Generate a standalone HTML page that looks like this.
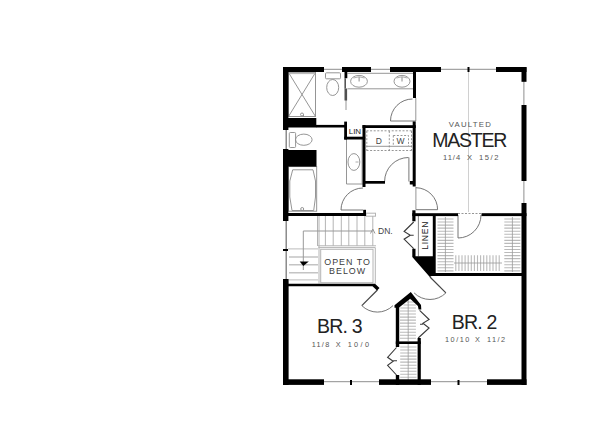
<!DOCTYPE html>
<html><head><meta charset="utf-8"><style>
html,body{margin:0;padding:0;background:#fff;}
body{width:600px;height:442px;overflow:hidden;}
svg{display:block;}
text{font-family:"Liberation Sans",sans-serif;}
</style></head><body>
<svg width="600" height="442" viewBox="0 0 600 442">
<rect width="600" height="442" fill="#fff"/>
<!-- light lines -->
<g fill="none" stroke="#8e8e8e" stroke-width="1">
  <path d="M324 69.3H342M371 69.3H390M441 69.3H496"/>
  <path d="M286.2 130V149M286.2 221V279" stroke="#7a7a7a" stroke-width="1.3"/>
  <path d="M523.9 81V105M523.9 181V203"/>
  <path d="M324 381.7H379M431 381.7H487"/>
</g>
<g fill="none" stroke="#b4b4b4" stroke-width="1">
  <path d="M468.5 72V212" stroke="#d0d0d0"/>
  <!-- stairs -->
  <path d="M317.5 216V246M325.4 216V246M333.2 216V246M341.3 216V246M348.8 216V246M357 216V246M364.8 216V246M372.8 216V246"/>
  <path d="M318 245.8H376"/>
  <path d="M288 248.9H318M289 279.9H318" stroke="#aaa" stroke-width="0.8"/>
  <path d="M289 257H318M289 264.7H318M289 272.7H318" stroke="#c4c4c4" stroke-width="1.6"/>
  <path d="M319 216V283.5"/>
  <rect x="366" y="213.2" width="9.5" height="3"/>
  <path d="M372.8 231H303.3V270" stroke="#999"/>
  <path d="M370.5 233.5L372.8 229L375 233.5" stroke="#999"/>
  <path d="M318.4 247.6H375.3V283.7"/>
  <rect x="320.7" y="249.3" width="52.3" height="33.4"/>
</g>
<!-- fixtures -->
<g fill="none" stroke="#8a8a8a" stroke-width="0.9">
  <rect x="288.5" y="72.5" width="27" height="44"/>
  <path d="M288.5 72.5L315.5 116.5M315.5 72.5L288.5 116.5"/>
  <path d="M289 73.3H315" stroke="#bbb" stroke-width="1.6"/>
  <path d="M300.5 114.5a1.5 1.5 0 1 0 3 0a1.5 1.5 0 1 0 -3 0M303.5 114.5v2"/>
  <rect x="325.5" y="72.8" width="15" height="6" rx="1"/>
  <ellipse cx="332.7" cy="87.5" rx="6" ry="8"/>
  <path d="M347.5 73.3H413M347.5 88.8H413"/>
  <ellipse cx="359" cy="81.3" rx="8.4" ry="5.9"/>
  <ellipse cx="402" cy="81.3" rx="8" ry="5.9"/>
  <path d="M353.5 78Q359 75.5 364.5 78M396.5 78Q402 75.5 407.5 78" stroke-width="0.7"/>
  <path d="M359.1 77v4.5M402 77v4.5" stroke-width="1"/>
  <rect x="289.3" y="132.5" width="6.3" height="15" rx="1"/>
  <ellipse cx="303.8" cy="139.7" rx="8.3" ry="5.6"/>
  <path d="M346.5 139V184H363"/>
  <ellipse cx="353.9" cy="162" rx="5.9" ry="8.4"/>
  <path d="M358.5 162h-3M362 139V183.5" stroke-width="0.7"/>
  <rect x="288.5" y="166.6" width="28.2" height="44.6"/>
  <path d="M292.7 169.8H313L315.5 181V197L313.7 210.5H292L289.8 197V181Z"/>
  <path d="M300.7 209a1.5 1.5 0 1 0 3 0a1.5 1.5 0 1 0 -3 0"/>
  <path d="M366.5 130.8H412M366.5 150.5H412M366.8 131V150.5M411.5 131V150.5M389.3 131V150.5M393.3 135.5H408.5V146M393.3 135.5V146" stroke-dasharray="2 1.6"/>
  <path d="M366.5 146.3H412"/>
  <path d="M458 213.5H481.5" stroke-dasharray="2 1.5"/>
  <path d="M418.4 216V256.3" stroke="#777"/>
  <path d="M346 100V110"/>
  <path d="M415.8 98V121M415.9 187V209.7"/>
</g>
<!-- doors -->
<g fill="none" stroke="#666" stroke-width="0.9">
  <path d="M390.5 121H415.8"/>
  <path d="M412.5 99A22 22 0 0 0 390.5 121"/>
  <path d="M341 210H363"/>
  <path d="M341 210A22 22 0 0 1 363 188"/>
  <path d="M408.9 157.5V181.5"/>
  <path d="M408.5 157.5A24 24 0 0 0 384.6 181.5"/>
  <path d="M415.9 209.7H437.6"/>
  <path d="M437.6 209.7A22 22 0 0 0 415.9 187.7"/>
  <path d="M377.4 290L361.8 305.6" stroke="#444" stroke-width="1.2"/>
  <path d="M361.8 305.6A22 22 0 0 0 393 305.6"/>
  <path d="M430 277L445.9 292.9" stroke="#444" stroke-width="1.2"/>
  <path d="M445.9 292.9A22.5 22.5 0 0 1 414.1 292.9"/>
  <path d="M458 215V238"/>
  <path d="M458 238A23 23 0 0 0 481 215"/>
  <g stroke="#3a3a3a" stroke-width="1.1">
  <path d="M413.7 222L404.1 231.5L410.3 235.3L404.1 239.2L413.7 248.6M410.3 235.3H413.7"/>
  <path d="M419.6 310.4L429.1 319.5L422.9 323.2L429.1 328L418.2 338M420 324.2H422.9"/>
  <path d="M396.5 347.5L387.6 357.3L393.2 361.3L387.6 365.3L396.5 375M393.2 360.8H397"/>
  </g>
</g>
<path d="M299.7 261.6H308.8L303.3 266Z" fill="#000"/>
<!-- hatches -->
<g stroke="#bababa" stroke-width="1.1" fill="none">
  <path d="M437.5 219H453.5M437.5 222.05H453.5M437.5 225.1H453.5M437.5 228.15H453.5M437.5 231.2H453.5M437.5 234.25H453.5M437.5 237.3H453.5M437.5 240.35H453.5M437.5 243.4H453.5M437.5 246.45H453.5M437.5 249.5H453.5M437.5 252.55H453.5M437.5 255.6H453.5M437.5 258.65H453.5M437.5 261.7H453.5M437.5 264.75H453.5M437.5 267.8H453.5M437.5 270.85H453.5M504.3 219H520.3M504.3 222.05H520.3M504.3 225.1H520.3M504.3 228.15H520.3M504.3 231.2H520.3M504.3 234.25H520.3M504.3 237.3H520.3M504.3 240.35H520.3M504.3 243.4H520.3M504.3 246.45H520.3M504.3 249.5H520.3M504.3 252.55H520.3M504.3 255.6H520.3M504.3 258.65H520.3M504.3 261.7H520.3M504.3 264.75H520.3M504.3 267.8H520.3M504.3 270.85H520.3M455.8 255.2V271M458.9 255.2V271M462 255.2V271M465.1 255.2V271M468.2 255.2V271M471.3 255.2V271M474.4 255.2V271M477.5 255.2V271M480.6 255.2V271M483.7 255.2V271M486.8 255.2V271M489.9 255.2V271M493 255.2V271M496.1 255.2V271M499.2 255.2V271M410 298.91H412.4M406.7 301.94H415M403.5 304.97H415.9M400.3 308H415.9M400 311.03H415.9M400 314.06H415.9M400 317.09H415.9M400 320.12H415.9M400 323.15H415.9M400 326.18H415.9M400 329.21H415.9M400 332.24H415.9M400 335.27H415.9M400 338.3H415.9M400.2 347H416.5M400.2 350.03H416.5M400.2 353.06H416.5M400.2 356.09H416.5M400.2 359.12H416.5M400.2 362.15H416.5M400.2 365.18H416.5M400.2 368.21H416.5M400.2 371.24H416.5M400.2 374.27H416.5M400.2 377.3H416.5"/>
  <path d="M445.4 217V272M512.4 217V272M454 263H502M408.2 297V341M408.2 344V380" stroke="#999" stroke-width="0.8"/>
</g>
<!-- walls -->
<g fill="#000">
  <rect x="283" y="67" width="41" height="5"/>
  <rect x="342" y="67" width="29" height="5"/>
  <rect x="390" y="67" width="51" height="5"/>
  <rect x="496" y="67" width="30.5" height="5"/>
  <rect x="467.5" y="67" width="2" height="5"/>
  <rect x="283" y="67.2" width="5.4" height="62.8"/>
  <rect x="283" y="149" width="5.4" height="72"/>
  <rect x="283" y="249" width="5" height="2"/>
  <rect x="283" y="279" width="5.6" height="106"/>
  <rect x="521.5" y="67.2" width="5" height="14.6"/>
  <rect x="521.5" y="105" width="5" height="76"/>
  <rect x="521.5" y="203" width="5" height="182"/>
  <rect x="283" y="379.3" width="41" height="5.6"/>
  <rect x="379" y="379.3" width="52" height="5.6"/>
  <rect x="487" y="379.3" width="39.5" height="5.6"/>
  <rect x="350" y="380" width="2" height="5"/>
  <rect x="457.5" y="380" width="2" height="5"/>
  <rect x="283" y="118" width="33.3" height="9.5"/>
  <rect x="316" y="124.9" width="31" height="2.6"/>
  <rect x="283" y="150" width="33.5" height="16.6"/>
  <rect x="344.5" y="72" width="2.8" height="6.2"/>
  <rect x="344.4" y="78.2" width="1.6" height="10.4" fill="#555"/>
  <rect x="344.5" y="88.5" width="2.6" height="12" fill="#505050"/>
  <rect x="413" y="72" width="3" height="26"/>
  <rect x="344.2" y="121.6" width="2.8" height="17.9"/>
  <rect x="344.2" y="136.7" width="21" height="2.8"/>
  <rect x="362.5" y="125.1" width="3" height="61.9"/>
  <rect x="362.5" y="125.2" width="53.3" height="2.8"/>
  <rect x="412.7" y="121.5" width="3" height="65"/>
  <rect x="363" y="181" width="22" height="2.7"/>
  <rect x="409.8" y="181" width="4" height="3.5"/>
  <rect x="283" y="213" width="83" height="3"/>
  <rect x="363.2" y="209.8" width="2.8" height="6"/>
  <path d="M283 283.7H375L379.5 288L377 290.5L372.5 286.3H283Z"/>
  <rect x="395.8" y="305" width="3.4" height="42"/>
  <rect x="395.8" y="375" width="3.4" height="10"/>
  <rect x="417.6" y="338" width="3.2" height="47"/>
  <rect x="395.8" y="341.4" width="25" height="2.6"/>
  <path d="M394.5 305.2L410.8 292.1L421 305L421.3 309.5H418.6L417.9 305.9L410.2 298.7L398.8 307.7H394.5Z"/>
  <rect x="412.3" y="210.3" width="3.2" height="11"/>
  <rect x="412.3" y="213.2" width="45.7" height="2.9"/>
  <rect x="481.5" y="213.2" width="45" height="2.9"/>
  <path d="M412.3 248.7H415.5V256.3H432.8V215H435.7V273H526V276H431.5L429.8 277L412.3 257Z"/>
</g>
<!-- text -->
<g fill="#222">
  <text x="470.4" y="127.2" font-size="7.8" text-anchor="middle" letter-spacing="1.2" fill="#555">VAULTED</text>
  <text x="469.2" y="146.5" font-size="19.5" text-anchor="middle" letter-spacing="-1.2">MASTER</text>
  <g font-size="7.6" fill="#555">
    <text x="443" y="160.2" textLength="17.2" lengthAdjust="spacing">11/4</text>
    <text x="467" y="160.2">X</text>
    <text x="479" y="160.2" textLength="19.5" lengthAdjust="spacing">15/2</text>
  </g>
  <text x="339.5" y="333" font-size="19.5" text-anchor="middle" letter-spacing="-0.8">BR. 3</text>
  <g font-size="7.3" fill="#555">
    <text x="311.7" y="347" textLength="17.5" lengthAdjust="spacing">11/8</text>
    <text x="335.7" y="347">X</text>
    <text x="347.7" y="347" textLength="21.3" lengthAdjust="spacing">10/0</text>
  </g>
  <text x="474.2" y="329.3" font-size="19.5" text-anchor="middle" letter-spacing="-0.8">BR. 2</text>
  <g font-size="7.3" fill="#555">
    <text x="445" y="342.2" textLength="24.4" lengthAdjust="spacing">10/10</text>
    <text x="475" y="342.2">X</text>
    <text x="487" y="342.2" textLength="18" lengthAdjust="spacing">11/2</text>
  </g>
  <text x="347.6" y="265.1" font-size="8.9" text-anchor="middle" letter-spacing="1" fill="#3c3c3c">OPEN TO</text>
  <text x="347.6" y="274.4" font-size="8.9" text-anchor="middle" letter-spacing="1" fill="#3c3c3c">BELOW</text>
  <text x="378" y="233.5" font-size="8.5" fill="#444">DN.</text>
  <text x="348.7" y="133.6" font-size="8">LIN</text>
  <text x="378.7" y="143.5" font-size="8.5" text-anchor="middle" fill="#444">D</text>
  <text x="400.5" y="143.5" font-size="8.5" text-anchor="middle" fill="#444">W</text>
  <text transform="translate(428,235.3) rotate(-90)" font-size="8.5" text-anchor="middle" letter-spacing="0.8">LINEN</text>
</g>
</svg>
</body></html>
